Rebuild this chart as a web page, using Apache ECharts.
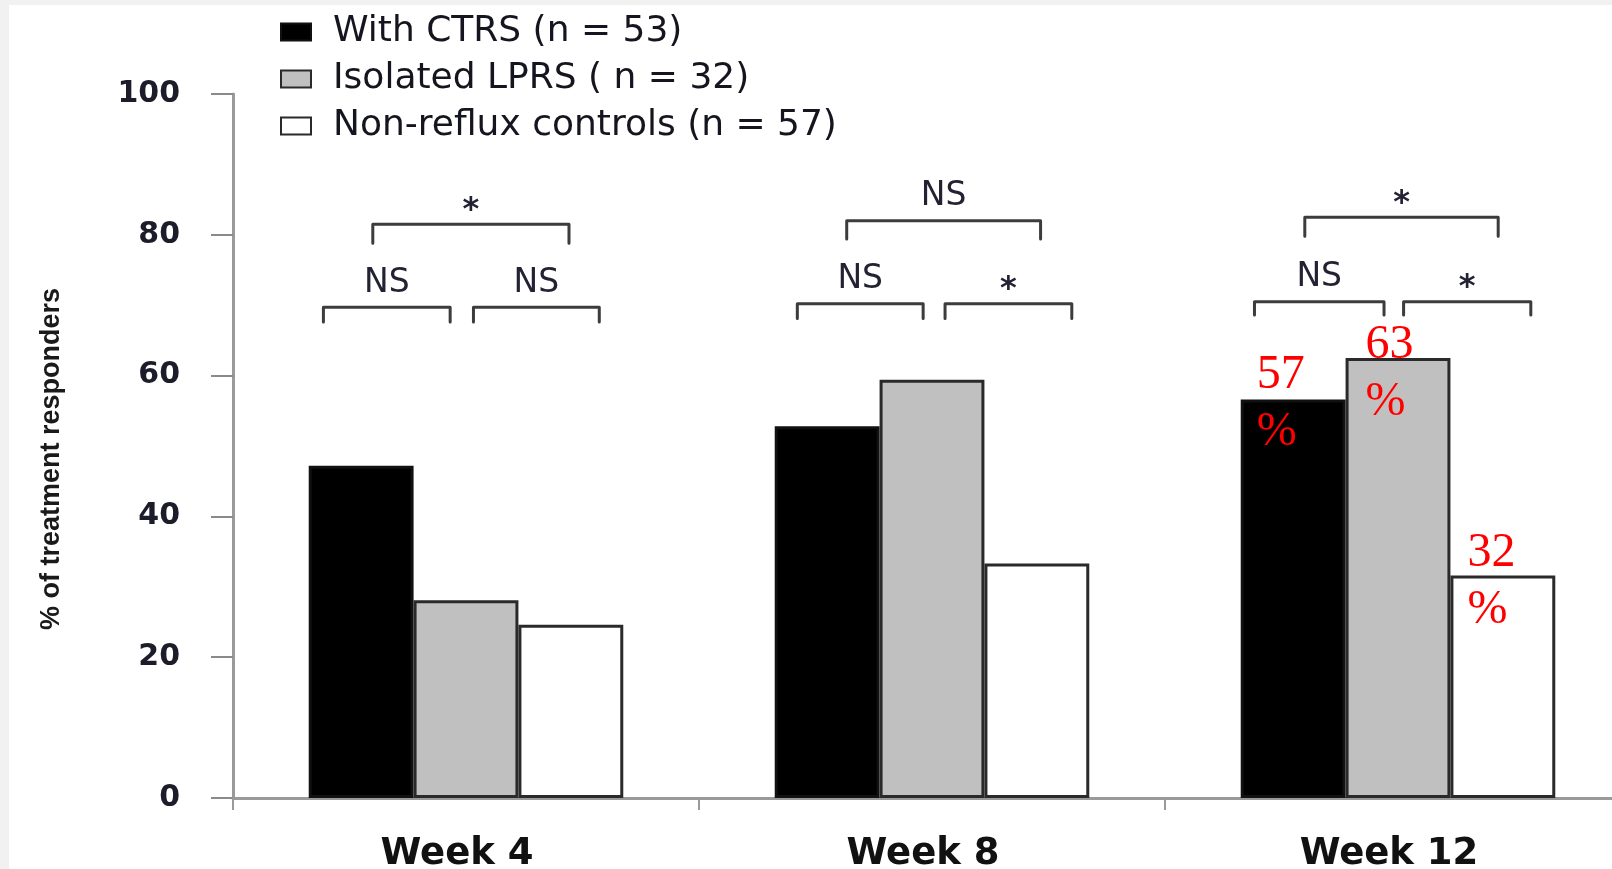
<!DOCTYPE html>
<html>
<head>
<meta charset="utf-8">
<script src="https://cdn.jsdelivr.net/npm/echarts@6/dist/echarts.min.js"></script>
<style>
html,body{margin:0;padding:0;width:1612px;height:869px;overflow:hidden;background:#f1f1f1;}
#chart{position:absolute;left:9px;top:5px;width:1640px;height:864px;background:#ffffff;}
</style>
</head>
<body>
<div id="chart"></div>
<script>
// ---------- data ----------
const categories = ['Week 4', 'Week 8', 'Week 12'];
const seriesNames = ['With CTRS (n = 53)', 'Isolated LPRS ( n = 32)', 'Non-reflux controls (n = 57)'];
const withCTRS = [47.2, 52.8, 56.6];
const isolatedLPRS = [28.1, 59.4, 62.5];
const nonRefluxControls = [24.6, 33.3, 31.6];
const yMin = 0, yMax = 100, yStep = 20;
const annotatedCategory = 2; // Week 12 values are printed as "value %"

// significance brackets (x in category units 0..3, y in % units)
const bracketFrom   = [0.300, 0.194, 0.516, 1.317, 1.211, 1.528, 2.300, 2.192, 2.512];
const bracketTo     = [0.721, 0.466, 0.786, 1.733, 1.481, 1.800, 2.715, 2.470, 2.785];
const bracketLevel  = [81.5, 69.7, 69.7, 82.0, 70.2, 70.2, 82.5, 70.5, 70.5];
const bracketLegEnd = [78.8, 67.6, 67.6, 79.4, 68.1, 68.1, 79.8, 68.6, 68.6];
const bracketText   = ['*', 'NS', 'NS', 'NS', 'NS', '*', '*', 'NS', '*'];

// ---------- styling ----------
function fontAvailable(name, weight) {
  const c = document.createElement('canvas').getContext('2d');
  const t = 'abcdefghijklmnopqrstuvwxyz% 0123456789';
  c.font = weight + ' 40px monospace'; const a = c.measureText(t).width;
  c.font = weight + ' 40px "' + name + '", monospace'; const b = c.measureText(t).width;
  c.font = weight + ' 40px serif'; const d = c.measureText(t).width;
  c.font = weight + ' 40px "' + name + '", serif'; const e = c.measureText(t).width;
  return a !== b || d !== e;
}
const yName = '% of treatment responders';
const nameFontCandidates = ['Liberation Sans Narrow', 'Liberation Sans'];
let nameFont = 'Liberation Sans';
for (const f of nameFontCandidates) { if (fontAvailable(f, 'bold')) { nameFont = f; break; } }
const nameTargetLen = 336;
const mctx = document.createElement('canvas').getContext('2d');
mctx.font = 'bold 40px "' + nameFont + '"';
let nameSize = Math.round(40 * nameTargetLen / mctx.measureText(yName).width);
if (nameSize > 33) nameSize = 33;

const labelNudge = [[16, -53], [20, -41], [17, -51]];
const barStyles = [
  { color: '#000000', borderColor: '#111111', borderWidth: 3 },
  { color: '#c0c0c0', borderColor: '#2a2a2a', borderWidth: 3 },
  { color: '#ffffff', borderColor: '#2a2a2a', borderWidth: 3 }
];
const seriesValues = [withCTRS, isolatedLPRS, nonRefluxControls];

function buildData(values, si) {
  return values.map((v, i) => {
    if (i !== annotatedCategory) return v;
    return {
      value: v,
      label: {
        show: true,
        position: labelNudge[si],
        align: 'left',
        verticalAlign: 'top',
        formatter: function (p) { return Math.round(p.value) + '\n%'; },
        fontFamily: '"Liberation Serif", "Times New Roman", serif',
        fontSize: 48,
        lineHeight: 57,
        color: '#ff0000'
      }
    };
  });
}

const barSeries = seriesValues.map((vals, si) => ({
  name: seriesNames[si],
  type: 'bar',
  xAxisIndex: 0,
  yAxisIndex: 0,
  barGap: '0%',
  barCategoryGap: '32.5%',
  itemStyle: barStyles[si],
  label: { show: false },
  data: buildData(vals, si)
}));

const bracketData = bracketFrom.map((x1, i) => [x1, bracketTo[i], bracketLevel[i], bracketLegEnd[i]]);

const bracketSeries = {
  type: 'custom',
  xAxisIndex: 1,
  yAxisIndex: 0,
  silent: true,
  z: 5,
  encode: { x: [0, 1], y: [2, 3] },
  data: bracketData,
  renderItem: function (params, api) {
    const i = params.dataIndex;
    const a = api.coord([api.value(0), api.value(2)]);
    const b = api.coord([api.value(1), api.value(2)]);
    const legY = api.coord([api.value(0), api.value(3)])[1];
    const txt = bracketText[i];
    const isStar = txt === '*';
    return {
      type: 'group',
      children: [
        {
          type: 'polyline',
          shape: { points: [[a[0], legY], [a[0], a[1]], [b[0], b[1]], [b[0], legY]] },
          style: { stroke: '#3c3c3c', lineWidth: 3, fill: null, lineJoin: 'round', lineCap: 'round' }
        },
        {
          type: 'text',
          style: {
            text: txt,
            x: (a[0] + b[0]) / 2,
            y: a[1] - (isStar ? 14 : 24),
            align: 'center',
            verticalAlign: 'middle',
            fontFamily: '"DejaVu Sans", sans-serif',
            fontWeight: isStar ? 'bold' : 'normal',
            fontSize: isStar ? 32 : 33,
            fill: '#222233'
          }
        }
      ]
    };
  }
};

const chart = echarts.init(document.getElementById('chart'), null, { renderer: 'canvas' });
chart.setOption({
  animation: false,
  backgroundColor: '#ffffff',
  legend: {
    data: seriesNames,
    orient: 'vertical',
    left: 271,
    top: 9,
    padding: 0,
    itemWidth: 30,
    itemHeight: 17,
    itemGap: 11,
    icon: 'rect',
    selectedMode: false,
    textStyle: {
      fontFamily: '"DejaVu Sans", sans-serif',
      fontSize: 36,
      lineHeight: 34,
      color: '#15151f',
      padding: [0, 0, 0, 17]
    }
  },
  grid: { left: 224, right: 18, top: 89, bottom: 71, containLabel: false, outerBoundsMode: 'none' },
  xAxis: [
    {
      type: 'category',
      data: categories,
      boundaryGap: true,
      axisLine: { show: true, lineStyle: { color: '#9a9a9a', width: 3 } },
      axisTick: { show: true, alignWithLabel: false, length: 12, lineStyle: { color: '#9a9a9a', width: 2 } },
      axisLabel: {
        margin: 38,
        padding: [0, 18, 0, 0],
        fontFamily: '"DejaVu Sans", sans-serif',
        fontWeight: 'bold',
        fontSize: 37,
        color: '#111111'
      },
      splitLine: { show: false }
    },
    {
      type: 'value',
      min: 0,
      max: 3,
      show: false,
      splitLine: { show: false }
    }
  ],
  yAxis: [
    {
      type: 'value',
      min: yMin,
      max: yMax,
      interval: yStep,
      name: yName,
      nameLocation: 'middle',
      nameRotate: 90,
      nameGap: 168,
      nameTextStyle: {
        fontFamily: '"' + nameFont + '", sans-serif',
        fontWeight: 'bold',
        fontSize: nameSize,
        color: '#1a1a1a',
        padding: [0, 26, 0, 0]
      },
      axisLine: { show: true, lineStyle: { color: '#9a9a9a', width: 3 } },
      axisTick: { show: true, inside: false, length: 22, lineStyle: { color: '#8a8a8a', width: 2 } },
      axisLabel: {
        margin: 53,
        fontFamily: '"DejaVu Sans", sans-serif',
        fontWeight: 'bold',
        fontSize: 30,
        color: '#1c1c2a'
      },
      splitLine: { show: false }
    }
  ],
  series: barSeries.concat([bracketSeries])
});
</script>
</body>
</html>
